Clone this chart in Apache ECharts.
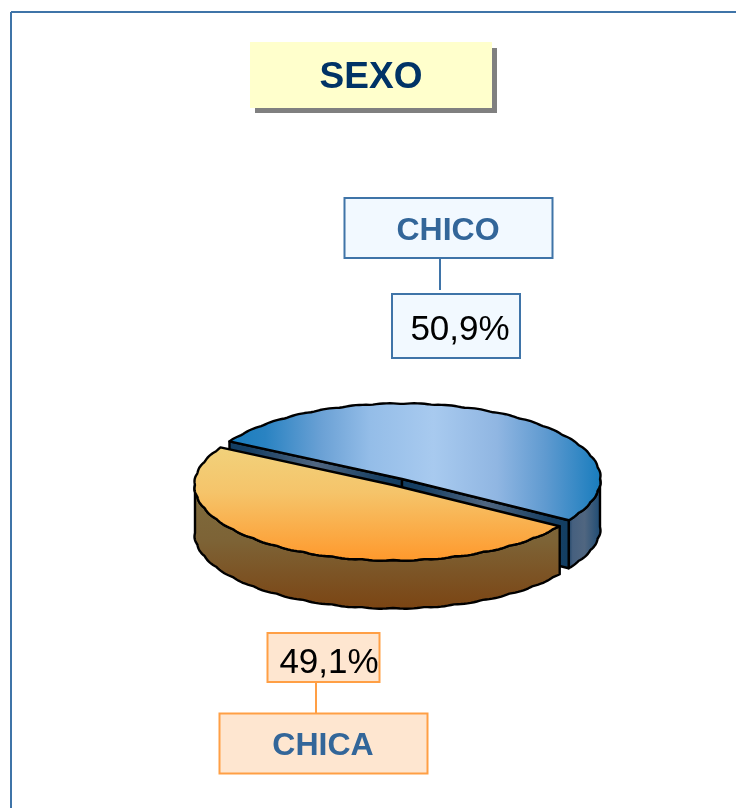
<!DOCTYPE html>
<html>
<head>
<meta charset="utf-8">
<style>html,body{margin:0;padding:0;background:#fff}#c{width:736px;height:808px}</style>
<script src="https://cdn.jsdelivr.net/npm/echarts@6/dist/echarts.min.js"></script>
</head>
<body>
<div id="c"></div>
<script>
var chartTitle = 'SEXO';
var categories = ['CHICO', 'CHICA'];
var shares = [50.9, 49.1];

function pct(v) { return v.toFixed(1).replace('.', ',') + '%'; }

var FONT = '"Liberation Sans", Arial, sans-serif';
var RX = 198, RY = 75, DEPTH = 48, START = 33;
var total = shares.reduce(function (a, b) { return a + b; }, 0);
function grad(x0, y0, x1, y1, stops) {
  return new echarts.graphic.LinearGradient(x0, y0, x1, y1, stops.map(function (s) {
    return { offset: s[0], color: s[1] };
  }));
}
var EDGE = { stroke: '#000', lineWidth: 2.4, lineJoin: 'round' };
var FACE = [[0, '#123e62'], [0.12, '#173f63'], [0.5, '#506680'], [0.88, '#173f63'], [1, '#123e62']];

function rim(cx, cy, t) {
  var rad = t * Math.PI / 180;
  var bump = 0.9 * Math.abs(Math.sin(rad * 20));
  return [cx + (RX + bump) * Math.cos(rad), cy + (RY + bump) * Math.sin(rad)];
}
function arc(cx, cy, a, b) {
  var out = [], n = Math.ceil(Math.abs(b - a));
  for (var i = 0; i <= n; i++) out.push(rim(cx, cy, a + (b - a) * i / n));
  return out;
}
function poly(points, fill) {
  return { type: 'polygon', shape: { points: points }, style: Object.assign({ fill: fill }, EDGE) };
}
function drop(points) {
  return points.map(function (p) { return [p[0], p[1] + DEPTH]; }).reverse();
}
function renderSlice(params, api) {
  var sweep = api.value(0) / total * 360;
  var kids = [];
  if (params.dataIndex === 0) {
    var cx = 402, cy = 479;
    var a = START - sweep, b = START;
    var A = rim(cx, cy, a), B = rim(cx, cy, b), O = [cx, cy];
    var side = arc(cx, cy, 0, b);
    kids.push(poly(side.concat(drop(side)), grad(0, 0, 1, 0, [[0, '#173f63'], [0.15, '#46607f'], [0.5, '#506680'], [1, '#1b4a73']])));
    kids.push(poly([A, O, [O[0], O[1] + DEPTH], [A[0], A[1] + DEPTH]], grad(0, 0, 1, 0, FACE)));
    kids.push(poly([O, B, [B[0], B[1] + DEPTH], [O[0], O[1] + DEPTH]], grad(0, 0, 1, 0, FACE)));
    kids.push(poly([O].concat(arc(cx, cy, a, b)), grad(0, 0, 1, 0, [
      [0, '#177cbd'], [0.1, '#2a83c2'], [0.25, '#6ba1d5'], [0.38, '#94bde8'],
      [0.55, '#a8caef'], [0.72, '#90b6e2'], [0.85, '#5f9ad0'], [1, '#177cbd']
    ])));
  } else {
    var ox = 393, oy = 485;
    var p = START, q = START + sweep;
    var wall = arc(ox, oy, p, 180);
    kids.push(poly(wall.concat(drop(wall)), grad(0, 0, 0, 1, [[0, '#7e6c3e'], [0.45, '#7d6336'], [1, '#7b4413']])));
    kids.push(poly([[ox, oy]].concat(arc(ox, oy, p, q)), grad(0, 0, 0, 1, [[0, '#f1d27c'], [0.4, '#f5c46a'], [1, '#ff982b']])));
  }
  return { type: 'group', children: kids };
}
function box(x, y, w, h, fill, line) {
  return { type: 'rect', shape: { x: x, y: y, width: w, height: h }, style: { fill: fill, stroke: line, lineWidth: 2 } };
}
function seg(x1, y1, x2, y2, c) {
  return { type: 'line', shape: { x1: x1, y1: y1, x2: x2, y2: y2 }, style: { stroke: c, lineWidth: 2 } };
}
function label(s, x, y, size, color, bold) {
  return { type: 'text', x: x, y: y, z: 5, style: { text: s, fill: color, fontFamily: FONT, fontSize: size,
    fontWeight: bold ? 'bold' : 'normal', textAlign: 'center', textVerticalAlign: 'middle' } };
}
var BLUE = '#3f74a8', ORANGE = '#ff9f45', PALE = '#f2f9ff', PEACH = '#fee6d0';
var chart = echarts.init(document.getElementById('c'), null, { renderer: 'canvas' });
chart.setOption({
  animation: false,
  backgroundColor: '#fff',
  graphic: { elements: [
    seg(11, 12, 736, 12, BLUE), seg(11, 12, 11, 808, BLUE),
    { type: 'rect', shape: { x: 255, y: 48, width: 242, height: 65 }, style: { fill: '#808080' } },
    { type: 'rect', shape: { x: 250, y: 42, width: 242, height: 66 }, style: { fill: '#ffffcc' } },
    label(chartTitle, 371, 78, 37, '#003366', true),
    seg(440, 258, 440, 290, BLUE),
    box(344.5, 198, 208, 60, PALE, BLUE), label(categories[0], 448, 231, 32, '#336699', true),
    box(392, 294, 128, 64, PALE, BLUE), label(pct(shares[0]), 460, 330, 35, '#000', false),
    seg(316, 682, 316, 713, ORANGE),
    box(267.5, 633, 112, 49, PEACH, ORANGE), label(pct(shares[1]), 329, 663, 35, '#000', false),
    box(219.5, 713.5, 208, 60, PEACH, ORANGE), label(categories[1], 323, 746, 32, '#336699', true)
  ] },
  series: [{
    type: 'custom',
    coordinateSystem: 'none',
    renderItem: renderSlice,
    data: shares.map(function (v, i) { return { name: categories[i], value: [v] }; })
  }]
});
</script>
</body>
</html>
